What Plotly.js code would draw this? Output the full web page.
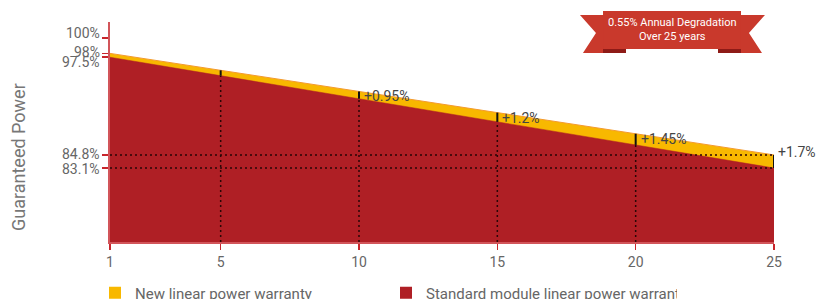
<!DOCTYPE html>
<html>
<head>
<meta charset="utf-8">
<script src="https://cdn.plot.ly/plotly-3.0.1.min.js"></script>
<style>html,body{margin:0;padding:0;background:#fff;}#chart{width:821px;height:299px;}</style>
</head>
<body>
<div id="chart"></div>
<script>
// ---- data ----
const years = [1, 5, 10, 15, 20, 25];
const newWarranty = [98, 95.8, 93.05, 90.3, 87.55, 84.8];
const standardWarranty = [97.5, 95.1, 92.1, 89.1, 86.1, 83.1];
const gapLabels = ["", "", "+0.95%", "+1.2%", "+1.45%", "+1.7%"];
const yTickVals = [100, 98, 97.5, 84.8, 83.1];
const yTickText = ["100%", "98%", "97.5%", "84.8%", "83.1%"];
const xTickVals = [1, 5, 10, 15, 20, 25];
const seriesNames = ["New linear power warranty", "Standard module linear power warranty"];
const bannerLines = ["0.55% Annual Degradation", "Over 25 years"];

// ---- layout constants ----
const W = 821, H = 299;
const M = {l: 110, r: 47, t: 22, b: 57, autoexpand: false};
const yMin = 73.48, yMax = 102.08;
const FONT = "Roboto, 'Liberation Sans', sans-serif";
const YELLOW = "#F8B800", RED = "#AF1F25";
const pw = W - M.l - M.r, ph = H - M.t - M.b;
const px = x => (x - M.l) / pw;
const py = y => (M.t + ph - y) / ph;
function path(pts){ return pts.map((p,i)=>(i?"L":"M")+px(p[0]).toFixed(4)+","+py(p[1]).toFixed(4)).join(" ")+" Z"; }

const traces = [];
traces.push({x: years, y: newWarranty, type: "scatter", mode: "lines", fill: "tozeroy",
  fillcolor: YELLOW, line: {color: "#F39A2E", width: 1}, showlegend: false, hoverinfo: "skip"});
traces.push({x: years, y: standardWarranty, type: "scatter", mode: "lines", fill: "tozeroy",
  fillcolor: RED, line: {color: RED, width: 0.5}, showlegend: false, hoverinfo: "skip"});

const dvx = [], dvy = [];
years.forEach((yr, i) => { if (yr !== 1 && yr !== 25) { dvx.push(yr, yr, null); dvy.push(yMin, standardWarranty[i], null); } });
traces.push({x: dvx, y: dvy, type: "scatter", mode: "lines", line: {color: "#2a0606", width: 1.5, dash: "2px,3px"}, showlegend: false, hoverinfo: "skip"});

const last = years.length - 1;
traces.push({x: [years[0], years[last], null, years[0], years[last]],
  y: [newWarranty[last], newWarranty[last], null, standardWarranty[last], standardWarranty[last]],
  type: "scatter", mode: "lines", line: {color: "#2a0606", width: 1.5, dash: "2px,3px"}, showlegend: false, hoverinfo: "skip"});

const sx = [], sy = [];
years.forEach((yr, i) => { if (yr !== 1) { sx.push(yr, yr, null); sy.push(standardWarranty[i], newWarranty[i], null); } });
traces.push({x: sx, y: sy, type: "scatter", mode: "lines", line: {color: "#111", width: 2}, showlegend: false, hoverinfo: "skip"});

traces.push({x: [null], y: [null], type: "scatter", mode: "markers", name: seriesNames[0],
  marker: {symbol: "square", size: 12, color: YELLOW}});
traces.push({x: [null], y: [null], type: "scatter", mode: "markers", name: seriesNames[1],
  marker: {symbol: "square", size: 12, color: RED}});

const annotations = [];
years.forEach((yr, i) => {
  if (!gapLabels[i]) return;
  const isLast = i === last;
  annotations.push({x: yr, y: newWarranty[i], xref: "x", yref: "y", text: gapLabels[i],
    showarrow: false, xanchor: "left", yanchor: isLast ? "middle" : "top",
    xshift: isLast ? 2 : 3, yshift: isLast ? 3 : 5,
    font: {family: FONT, size: 14, color: "#444"}});
});
// y tick labels drawn as text next to their ticks (spread slightly where ticks crowd)
const labelShift = [5, 1, -5, 1, -1];
yTickVals.forEach((v, i) => {
  annotations.push({x: 0, y: v, xref: "paper", yref: "y", text: yTickText[i], showarrow: false,
    xanchor: "right", yanchor: "middle", xshift: -8, yshift: labelShift[i],
    font: {family: FONT, size: 14, color: "#666"}});
});
annotations.push({x: px(18), y: py(157), xref: "paper", yref: "paper", text: "Guaranteed Power",
  textangle: -90, showarrow: false, xanchor: "center", yanchor: "middle",
  font: {family: FONT, size: 18, color: "#777"}});
annotations.push({x: px(672), y: py(29), xref: "paper", yref: "paper",
  text: bannerLines.join("<br>"), showarrow: false, xanchor: "center", yanchor: "middle",
  font: {family: FONT, size: 11, color: "#fff"}});

const BANNER = "#C9392C", FOLD = "#8E1B17";
const shapes = [
  {type: "path", xref: "paper", yref: "paper", path: path([[580,15],[612,15],[626,53],[583,53],[596,33]]), fillcolor: BANNER, line: {width: 0}, layer: "above"},
  {type: "path", xref: "paper", yref: "paper", path: path([[765,15],[733,15],[718,53],[762,53],[749,33]]), fillcolor: BANNER, line: {width: 0}, layer: "above"},
  {type: "path", xref: "paper", yref: "paper", path: path([[603,46],[626,46],[626,53],[603,53]]), fillcolor: FOLD, line: {width: 0}, layer: "above"},
  {type: "path", xref: "paper", yref: "paper", path: path([[718,46],[741,46],[741,53],[718,53]]), fillcolor: FOLD, line: {width: 0}, layer: "above"},
  {type: "path", xref: "paper", yref: "paper", path: path([[603,11],[741,11],[741,49],[603,49]]), fillcolor: BANNER, line: {width: 0}, layer: "above"}
];

const layout = {
  width: W, height: H,
  margin: M,
  paper_bgcolor: "#fff", plot_bgcolor: "#fff",
  font: {family: FONT, color: "#666"},
  showlegend: true,
  legend: {orientation: "h", x: px(95), xanchor: "left", y: py(293), yanchor: "middle",
    entrywidth: 246, entrywidthmode: "pixels", font: {family: FONT, size: 15, color: "#666"},
    bgcolor: "rgba(0,0,0,0)", borderwidth: 0, tracegroupgap: 0},
  xaxis: {range: [1, 25], tickvals: xTickVals, ticktext: xTickVals.map(String),
    showgrid: false, zeroline: false, showline: true, linecolor: "#D2555A", linewidth: 2,
    ticks: "outside", ticklen: 6, tickcolor: "#C8262C", tickwidth: 1.5,
    tickfont: {family: FONT, size: 14, color: "#666"}, fixedrange: true},
  yaxis: {range: [yMin, yMax], tickvals: yTickVals, ticktext: yTickText.map(() => ""),
    showgrid: false, zeroline: false, showline: true, linecolor: "#D2555A", linewidth: 2,
    ticks: "outside", ticklen: 6, tickcolor: "#C8262C", tickwidth: 1.5,
    tickfont: {family: FONT, size: 14, color: "#666"}, fixedrange: true},
  annotations: annotations,
  shapes: shapes
};

Plotly.newPlot("chart", traces, layout, {displayModeBar: false, staticPlot: true});
</script>
</body>
</html>
